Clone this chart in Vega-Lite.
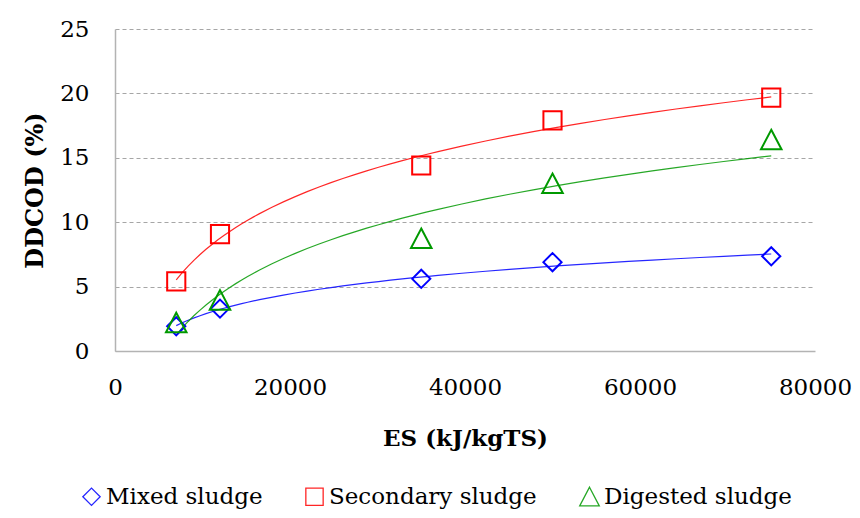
{
  "$schema": "https://vega.github.io/schema/vega-lite/v6.json",
  "width": 700,
  "height": 322,
  "autosize": {"type": "none"},
  "padding": {"left": 115, "top": 29, "right": 45, "bottom": 167},
  "background": "white",
  "config": {
    "font": "DejaVu Serif",
    "view": {"stroke": null},
    "axis": {"labelFont": "DejaVu Serif", "titleFont": "DejaVu Serif", "labelColor": "#000", "titleColor": "#000"},
    "legend": {"labelFont": "DejaVu Serif"}
  },
  "data": {
    "values": [
      {"Sludge": "Mixed sludge", "ES": 7000, "DD": 1.92},
      {"Sludge": "Mixed sludge", "ES": 12000, "DD": 3.29},
      {"Sludge": "Mixed sludge", "ES": 35000, "DD": 5.6},
      {"Sludge": "Mixed sludge", "ES": 50000, "DD": 6.9},
      {"Sludge": "Mixed sludge", "ES": 75000, "DD": 7.35},
      {"Sludge": "Secondary sludge", "ES": 7000, "DD": 5.41},
      {"Sludge": "Secondary sludge", "ES": 12000, "DD": 9.08},
      {"Sludge": "Secondary sludge", "ES": 35000, "DD": 14.4},
      {"Sludge": "Secondary sludge", "ES": 50000, "DD": 17.9},
      {"Sludge": "Secondary sludge", "ES": 75000, "DD": 19.67},
      {"Sludge": "Digested sludge", "ES": 7000, "DD": 2.2},
      {"Sludge": "Digested sludge", "ES": 12000, "DD": 3.95},
      {"Sludge": "Digested sludge", "ES": 35000, "DD": 8.73},
      {"Sludge": "Digested sludge", "ES": 50000, "DD": 13.0},
      {"Sludge": "Digested sludge", "ES": 75000, "DD": 16.4}
    ]
  },
  "layer": [
    {
      "transform": [
        {"regression": "DD", "on": "ES", "groupby": ["Sludge"], "method": "log"}
      ],
      "mark": {"type": "line", "strokeWidth": 1.2, "opacity": 0.85},
      "encoding": {
        "x": {"field": "ES", "type": "quantitative"},
        "y": {"field": "DD", "type": "quantitative"},
        "color": {"field": "Sludge", "type": "nominal"}
      }
    },
    {
      "mark": {"type": "point", "filled": false, "strokeWidth": 2, "size": 330, "opacity": 1},
      "encoding": {
        "x": {
          "field": "ES", "type": "quantitative",
          "scale": {"domain": [0, 80000], "nice": false},
          "axis": {
            "values": [0, 20000, 40000, 60000, 80000], "format": "d",
            "grid": false, "ticks": false, "domainColor": "#b3b3b3", "domainWidth": 1.5,
            "labelFontSize": 23, "labelPadding": 25, "labelFlush": false,
            "title": "ES (kJ/kgTS)", "titleFontSize": 23, "titleFontWeight": "bold", "titlePadding": 28
          }
        },
        "y": {
          "field": "DD", "type": "quantitative",
          "scale": {"domain": [0, 25], "nice": false},
          "axis": {
            "values": [0, 5, 10, 15, 20, 25],
            "grid": true, "gridDash": [4, 3], "gridColor": "#a6a6a6", "gridWidth": 1.2,
            "ticks": false, "domainColor": "#b3b3b3", "domainWidth": 1.5,
            "labelFontSize": 23, "labelPadding": 26,
            "title": "DDCOD (%)", "titleFontSize": 24, "titleFontWeight": "bold", "titlePadding": 12
          }
        },
        "color": {
          "field": "Sludge", "type": "nominal",
          "scale": {"domain": ["Mixed sludge", "Secondary sludge", "Digested sludge"], "range": ["#0000ff", "#ff0000", "#009900"]},
          "legend": {
            "title": null, "orient": "none", "direction": "horizontal",
            "legendX": -35, "legendY": 456,
            "labelFontSize": 23, "labelColor": "#000", "labelLimit": 0,
            "symbolSize": 300, "symbolStrokeWidth": 1.3, "labelOffset": 3, "columnPadding": 40
          }
        },
        "shape": {
          "field": "Sludge", "type": "nominal",
          "scale": {"domain": ["Mixed sludge", "Secondary sludge", "Digested sludge"], "range": ["diamond", "square", "M0,-1.1L1.13,1.05L-1.13,1.05Z"]}
        }
      }
    }
  ]
}
